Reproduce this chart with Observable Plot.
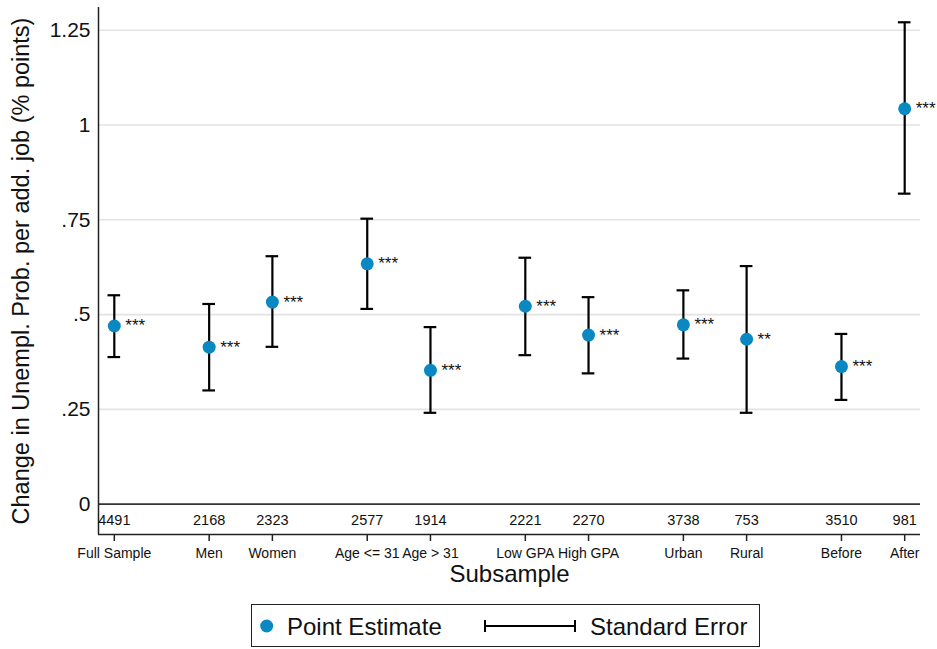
<!DOCTYPE html>
<html><head><meta charset="utf-8">
<script src="https://cdn.jsdelivr.net/npm/d3@7"></script>
<script src="https://cdn.jsdelivr.net/npm/@observablehq/plot@0.6"></script>
<style>
body{margin:0;background:#fff;font-family:"Liberation Sans",Arial,sans-serif;}
#chart{position:relative;width:937px;height:649px;overflow:hidden;}
#legend{position:absolute;left:251px;top:604px;width:507px;height:41px;border:1px solid #222;background:#fff;}
#legend span{position:absolute;top:0;line-height:43px;font-size:24px;color:#111;white-space:nowrap;}
#legend svg{position:absolute;left:0;top:0;}
</style></head><body><div id="chart"></div>
<script>
// ---- data ----
const groups = ["Full Sample","Men","Women","Age <= 31","Age > 31","Low GPA","High GPA","Urban","Rural","Before","After"];
const xpos   = [1,4,6,9,11,14,16,19,21,24,26];
const nobs   = [4491,2168,2323,2577,1914,2221,2270,3738,753,3510,981];
const est    = [0.470,0.414,0.533,0.634,0.353,0.522,0.446,0.473,0.435,0.363,1.043];
const lo     = [0.388,0.300,0.415,0.515,0.241,0.393,0.345,0.384,0.241,0.275,0.819];
const hi     = [0.551,0.528,0.654,0.753,0.467,0.650,0.546,0.564,0.628,0.449,1.271];
const stars  = ["***","***","***","***","***","***","***","***","**","***","***"];
const yTicks = [0,0.25,0.5,0.75,1,1.25];
const yTickLabels = ["0",".25",".5",".75","1","1.25"];
const yTitle = "Change in Unempl. Prob. per add. job (% points)";
const xTitle = "Subsample";
const legendLabels = ["Point Estimate","Standard Error"];

const xDomain = [0.5, 26.5];
const yDomain = [-0.08, 1.31];
const blue = "#0a88c2";
const rows = groups.map((g,i)=>({g, x:xpos[i], n:nobs[i], est:est[i], lo:lo[i], hi:hi[i], s:stars[i]}));
const capHalf = 0.2;

const plot = Plot.plot({
  width: 937, height: 600,
  marginLeft: 98, marginRight: 17, marginTop: 7, marginBottom: 66,
  style: {fontFamily: '"Liberation Sans",Arial,sans-serif', background: "#fff", overflow: "visible"},
  x: {domain: xDomain},
  y: {domain: yDomain},
  marks: [
    Plot.gridY(yTicks.filter(d=>d>0), {stroke:"#e3e3e3", strokeOpacity:1, strokeWidth:1.6}),
    Plot.ruleY([0], {stroke:"#333", strokeWidth:1.8}),
    Plot.ruleX([xDomain[0]], {stroke:"#222", strokeWidth:1.5}),
    Plot.ruleY([yDomain[0]], {stroke:"#222", strokeWidth:1.5}),
    Plot.axisY({ticks: yTicks, tickFormat: d => yTickLabels[yTicks.indexOf(d)], tickSize: 0, tickPadding: 8, fontSize: 21, label: null, fill:"#111"}),
    Plot.axisX({ticks: xpos, tickFormat: d => groups[xpos.indexOf(d)], tickSize: 7, tickPadding: 7, fontSize: 14, label: null, stroke:"#222", strokeWidth:1.5, fill:"#111"}),
    Plot.ruleX(rows, {x:"x", y1:"lo", y2:"hi", stroke:"#000", strokeWidth:2.2}),
    Plot.ruleY(rows, {y:"lo", x1: d=>d.x-capHalf, x2: d=>d.x+capHalf, stroke:"#000", strokeWidth:2.2}),
    Plot.ruleY(rows, {y:"hi", x1: d=>d.x-capHalf, x2: d=>d.x+capHalf, stroke:"#000", strokeWidth:2.2}),
    Plot.dot(rows, {x:"x", y:"est", r:6.5, fill: blue, stroke: null}),
    Plot.text(rows, {x:"x", y:"est", text:"s", textAnchor:"start", dx:11, fontSize:17, fill:"#111"}),
    Plot.text(rows, {x:"x", text: d=>String(d.n), frameAnchor:"bottom", lineAnchor:"middle", dy:-14, fontSize:14.5, fill:"#111"}),
    Plot.text([xTitle], {text: d=>d, frameAnchor:"bottom", lineAnchor:"middle", dy:40, fontSize:24, fill:"#111"}),
    Plot.text([yTitle], {text: d=>d, frameAnchor:"left", textAnchor:"middle", lineAnchor:"middle", rotate:-90, dx:-77, fontSize:23.5, fill:"#111"})
  ]
});
const chart = document.getElementById("chart");
chart.appendChild(plot);

// legend (HTML below the SVG)
const lg = document.createElement("div");
lg.id = "legend";
lg.innerHTML = `
<svg width="507" height="41">
  <circle cx="14.7" cy="21" r="6.5" fill="${blue}"></circle>
  <line x1="233" x2="323" y1="21" y2="21" stroke="#000" stroke-width="2"></line>
  <line x1="233" x2="233" y1="15" y2="27" stroke="#000" stroke-width="2"></line>
  <line x1="323" x2="323" y1="15" y2="27" stroke="#000" stroke-width="2"></line>
</svg>
<span style="left:35px">${legendLabels[0]}</span>
<span style="left:338px">${legendLabels[1]}</span>`;
chart.appendChild(lg);
</script></body></html>
